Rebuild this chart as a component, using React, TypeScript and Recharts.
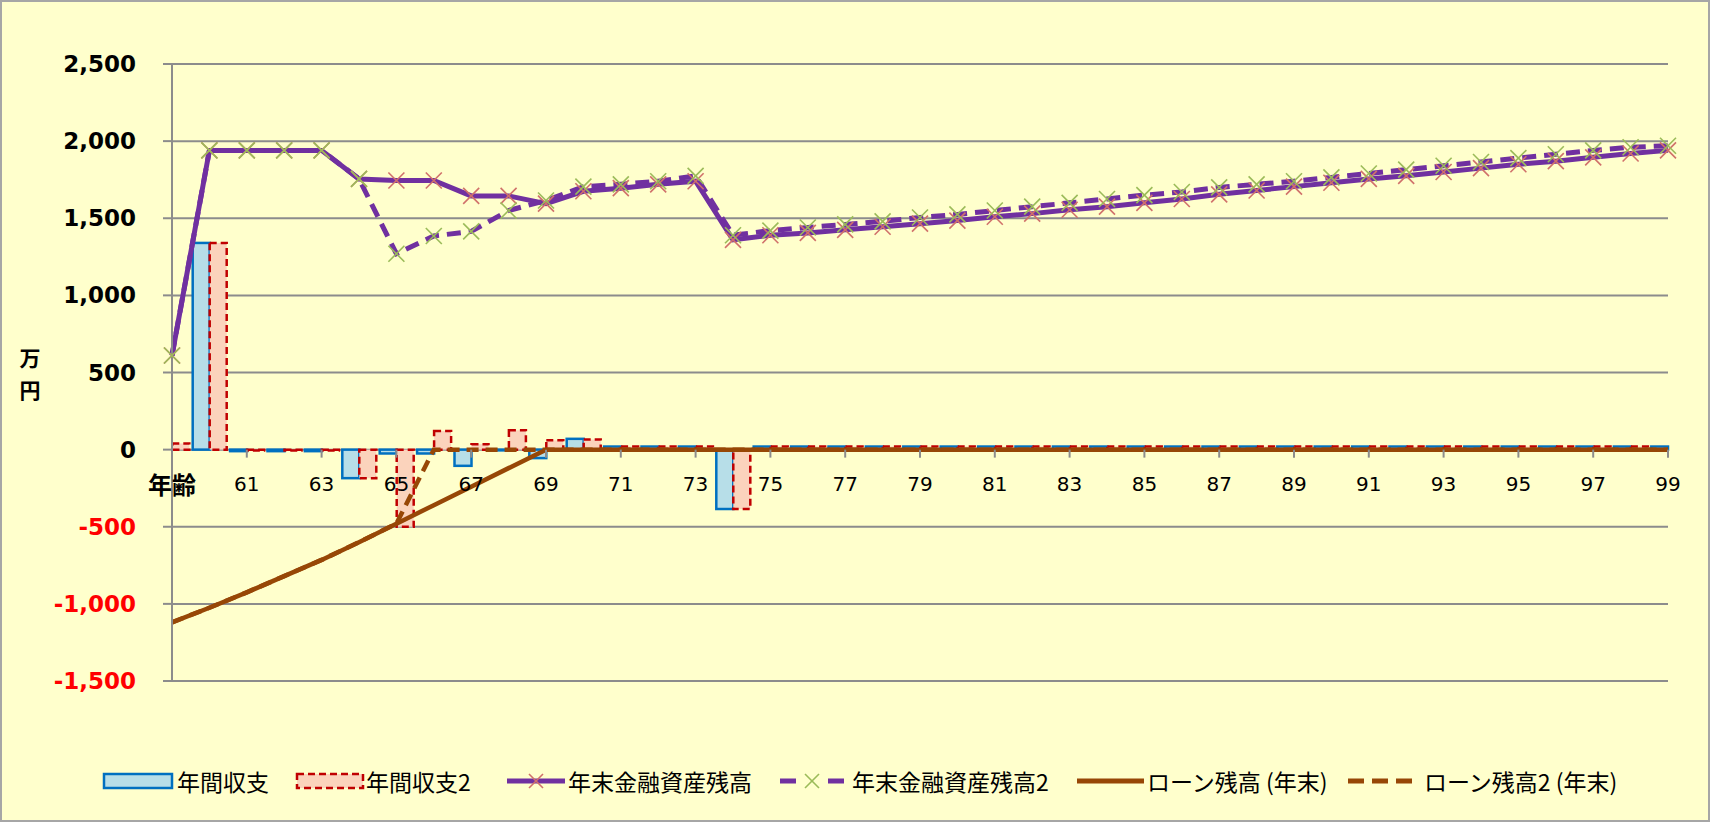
import React from "react";
import { ComposedChart, Bar, Line, XAxis, YAxis, CartesianGrid } from "recharts";

const W = 1710;
const H = 822;
const PLOT = { left: 172, right: 1668, top: 64, bottom: 681 };
const Y_MIN = -1500;
const Y_MAX = 2500;

// 年齢 (先頭は見出しセル) 60〜99
const ageLabels = [
    "年齢", "60", "61", "62", "63", "64", "65", "66", "67", "68", "69",
    "70", "71", "72", "73", "74", "75", "76", "77", "78", "79",
    "80", "81", "82", "83", "84", "85", "86", "87", "88", "89",
    "90", "91", "92", "93", "94", "95", "96", "97", "98", "99",
];

// 年間収支 (万円)
const annualBalance = [
    0, 1340, -10, -10, -10, -185, -25, -25, -105, -5, -55,
    70, 20, 20, 20, -385, 20, 20, 20, 20, 20,
    20, 20, 20, 20, 20, 20, 20, 20, 20, 20,
    20, 20, 20, 20, 20, 20, 20, 20, 20, 20,
];

// 年間収支2
const annualBalance2 = [
    40, 1340, -5, -5, -5, -185, -500, 120, 35, 125, 60,
    65, 20, 20, 20, -385, 20, 20, 20, 20, 20,
    20, 20, 20, 20, 20, 20, 20, 20, 20, 20,
    20, 20, 20, 20, 20, 20, 20, 20, 20, 20,
];

// 年末金融資産残高
const assets = [
    610, 1940, 1940, 1940, 1940, 1755, 1745, 1745, 1645, 1645, 1595,
    1675, 1695, 1720, 1740, 1360, 1390, 1405, 1425, 1445, 1465,
    1485, 1510, 1530, 1555, 1575, 1600, 1625, 1655, 1680, 1705,
    1730, 1755, 1775, 1800, 1825, 1850, 1870, 1895, 1920, 1940,
];

// 年末金融資産残高2
const assets2 = [
    610, 1940, 1940, 1940, 1940, 1755, 1270, 1385, 1415, 1550, 1615,
    1705, 1720, 1740, 1775, 1390, 1420, 1440, 1460, 1480, 1505,
    1525, 1550, 1575, 1600, 1625, 1650, 1670, 1700, 1720, 1740,
    1765, 1790, 1815, 1840, 1865, 1890, 1915, 1940, 1960, 1970,
];

// ローン残高 (年末)
const loan = [
    -1120, -1025, -925, -820, -715, -600, -480, -360, -240, -120, 0,
    0, 0, 0, 0, 0, 0, 0, 0, 0, 0,
    0, 0, 0, 0, 0, 0, 0, 0, 0, 0,
    0, 0, 0, 0, 0, 0, 0, 0, 0, 0,
];

// ローン残高2 (年末)
const loan2 = [
    -1120, -1025, -925, -820, -715, -600, -480, 0, 0, 0, 0,
    0, 0, 0, 0, 0, 0, 0, 0, 0, 0,
    0, 0, 0, 0, 0, 0, 0, 0, 0, 0,
    0, 0, 0, 0, 0, 0, 0, 0, 0, 0,
];

const yTicks = [-1500, -1000, -500, 0, 500, 1000, 1500, 2000, 2500];
const xTicks = [0, 2, 4, 6, 8, 10, 12, 14, 16, 18, 20, 22, 24, 26, 28, 30, 32, 34, 36, 38, 40];

const data = ageLabels.map((age, i) => ({
    idx: i,
    age,
    annualBalance: annualBalance[i],
    annualBalance2: annualBalance2[i],
    assets: assets[i],
    assets2: assets2[i],
    loan: loan[i],
    loan2: loan2[i],
}));

const BG = "#FFFFCC";
const GRID = "#8c8c8c";
const PURPLE = "#7030A0";
const BROWN = "#974706";
const BLUE = "#0070C0";
const BLUE_FILL = "#B7DEE8";
const RED = "#C00000";
const RED_FILL = "#FBD3BC";
const MARK_RED = "#D0706A";
const MARK_GREEN = "#9BBB59";

const zeroY = PLOT.top + ((PLOT.bottom - PLOT.top) * Y_MAX) / (Y_MAX - Y_MIN);

const XTick = (props: any) => {
    const { x, payload } = props;
    const label = ageLabels[payload.value];
    const isHead = payload.value === 0;
    return (
        <g>
            <line x1={x} x2={x} y1={zeroY} y2={zeroY + 8} stroke={GRID} strokeWidth={2} />
            <text
                x={x}
                y={zeroY + 34}
                textAnchor="middle"
                dominantBaseline="central"
                fontFamily={isHead ? "'Noto Sans CJK JP'" : "'DejaVu Sans'"}
                fontWeight={isHead ? 700 : 400}
                fontSize={isHead ? 24 : 20}
                fill="#000"
            >
                {label}
            </text>
        </g>
    );
};

const YTick = (props: any) => {
    const { x, y, payload } = props;
    const v = payload.value as number;
    return (
        <text
            x={x}
            y={y}
            textAnchor="end"
            dominantBaseline="central"
            fontFamily="'DejaVu Sans'"
            fontWeight={700}
            fontSize={23}
            fill={v < 0 ? "#FF0000" : "#000"}
        >
            {v.toLocaleString("en-US")}
        </text>
    );
};

// bars sitting on the first/last category are cut at the plot edge, as in Excel
const EdgeClippedBar = (props: any) => {
    const { x, y, width, height, fill, stroke, strokeWidth, strokeDasharray } = props;
    if (!height || !width) return null;
    const x0 = Math.max(x, PLOT.left);
    const x1 = Math.min(x + width, PLOT.right);
    if (x1 <= x0) return null;
    const top = Math.min(y, y + height);
    return (
        <rect
            x={x0}
            y={top}
            width={x1 - x0}
            height={Math.abs(height)}
            fill={fill}
            stroke={stroke}
            strokeWidth={strokeWidth}
            strokeDasharray={strokeDasharray}
        />
    );
};

const crossDot = (color: string) => (props: any) => {
    const { cx, cy, index } = props;
    const r = 8;
    return (
        <g key={`x-${color}-${index}`}>
            <line x1={cx - r} y1={cy - r} x2={cx + r} y2={cy + r} stroke={color} strokeWidth={1.6} />
            <line x1={cx - r} y1={cy + r} x2={cx + r} y2={cy - r} stroke={color} strokeWidth={1.6} />
        </g>
    );
};

function ChartLegend() {
    const cy = 781;
    const textProps = {
        fontFamily: "'Noto Sans CJK JP'",
        fontSize: 23,
        fill: "#000",
        dominantBaseline: "central" as const,
    };
    const cross = (x: number, color: string) => (
        <g>
            <line x1={x - 7} y1={cy - 7} x2={x + 7} y2={cy + 7} stroke={color} strokeWidth={1.6} />
            <line x1={x - 7} y1={cy + 7} x2={x + 7} y2={cy - 7} stroke={color} strokeWidth={1.6} />
        </g>
    );
    return (
        <g>
            <rect x={104} y={cy - 7} width={68} height={14} fill={BLUE_FILL} stroke={BLUE} strokeWidth={2.5} />
            <text x={177} y={cy} {...textProps}>年間収支</text>

            <rect x={297} y={cy - 7} width={66} height={14} fill={RED_FILL} stroke={RED} strokeWidth={2.5} strokeDasharray="7 4" />
            <text x={366} y={cy} {...textProps}>年間収支2</text>

            <line x1={507} x2={565} y1={cy} y2={cy} stroke={PURPLE} strokeWidth={5} />
            {cross(536, MARK_RED)}
            <text x={568} y={cy} {...textProps}>年末金融資産残高</text>

            <line x1={780} x2={844} y1={cy} y2={cy} stroke={PURPLE} strokeWidth={5} strokeDasharray="16 32" />
            {cross(812, MARK_GREEN)}
            <text x={852} y={cy} {...textProps}>年末金融資産残高2</text>

            <line x1={1077} x2={1144} y1={cy} y2={cy} stroke={BROWN} strokeWidth={5} />
            <text x={1147} y={cy} {...textProps}>ローン残高 (年末)</text>

            <line x1={1348} x2={1412} y1={cy} y2={cy} stroke={BROWN} strokeWidth={5} strokeDasharray="16 8" />
            <text x={1424} y={cy} {...textProps}>ローン残高2 (年末)</text>
        </g>
    );
}

export default function App() {
    return (
        <div
            style={{
                position: "absolute",
                left: 0,
                top: 0,
                width: W,
                height: H,
                background: BG,
                boxSizing: "border-box",
                border: "2px solid #a6a6a6",
            }}
        >
            <div style={{ position: "absolute", left: -2, top: -2 }}>
                <ComposedChart
                    width={W}
                    height={H}
                    data={data}
                    margin={{ top: PLOT.top, right: W - PLOT.right, left: 0, bottom: H - PLOT.bottom - 30 }}
                    barGap={0}
                >
                    <CartesianGrid vertical={false} stroke={GRID} strokeWidth={2} />
                    <XAxis
                        type="number"
                        dataKey="idx"
                        domain={[0, 40]}
                        ticks={xTicks}
                        interval={0}
                        axisLine={false}
                        tickLine={false}
                        tick={<XTick />}
                        height={30}
                    />
                    <YAxis
                        type="number"
                        domain={[Y_MIN, Y_MAX]}
                        ticks={yTicks}
                        interval={0}
                        width={PLOT.left}
                        axisLine={{ stroke: GRID, strokeWidth: 2 }}
                        tickLine={{ stroke: GRID, strokeWidth: 2 }}
                        tickSize={9}
                        tickMargin={27}
                        tick={<YTick />}
                    />
                    <Bar
                        dataKey="annualBalance"
                        name="年間収支"
                        fill={BLUE_FILL}
                        stroke={BLUE}
                        strokeWidth={2.5}
                        barSize={17}
                        shape={EdgeClippedBar}
                        isAnimationActive={false}
                    />
                    <Bar
                        dataKey="annualBalance2"
                        name="年間収支2"
                        fill={RED_FILL}
                        stroke={RED}
                        strokeWidth={2.5}
                        strokeDasharray="7 4"
                        barSize={17}
                        shape={EdgeClippedBar}
                        isAnimationActive={false}
                    />
                    <Line
                        type="linear"
                        dataKey="assets"
                        name="年末金融資産残高"
                        stroke={PURPLE}
                        strokeWidth={5}
                        dot={crossDot(MARK_RED)}
                        activeDot={false}
                        isAnimationActive={false}
                    />
                    <Line
                        type="linear"
                        dataKey="assets2"
                        name="年末金融資産残高2"
                        stroke={PURPLE}
                        strokeWidth={5}
                        strokeDasharray="14 8"
                        dot={crossDot(MARK_GREEN)}
                        activeDot={false}
                        isAnimationActive={false}
                    />
                    <Line
                        type="linear"
                        dataKey="loan"
                        name="ローン残高 (年末)"
                        stroke={BROWN}
                        strokeWidth={4.5}
                        dot={false}
                        activeDot={false}
                        isAnimationActive={false}
                    />
                    <Line
                        type="linear"
                        dataKey="loan2"
                        name="ローン残高2 (年末)"
                        stroke={BROWN}
                        strokeWidth={4.5}
                        strokeDasharray="12 7"
                        dot={false}
                        activeDot={false}
                        isAnimationActive={false}
                    />
                </ComposedChart>
            </div>
            <svg width={W} height={H} style={{ position: "absolute", left: -2, top: -2, pointerEvents: "none" }}>
                <text x={30} y={357} textAnchor="middle" dominantBaseline="central" fontFamily="'Noto Sans CJK JP'" fontWeight={700} fontSize={21}>万</text>
                <text x={30} y={389} textAnchor="middle" dominantBaseline="central" fontFamily="'Noto Sans CJK JP'" fontWeight={700} fontSize={21}>円</text>
                <ChartLegend />
            </svg>
        </div>
    );
}
